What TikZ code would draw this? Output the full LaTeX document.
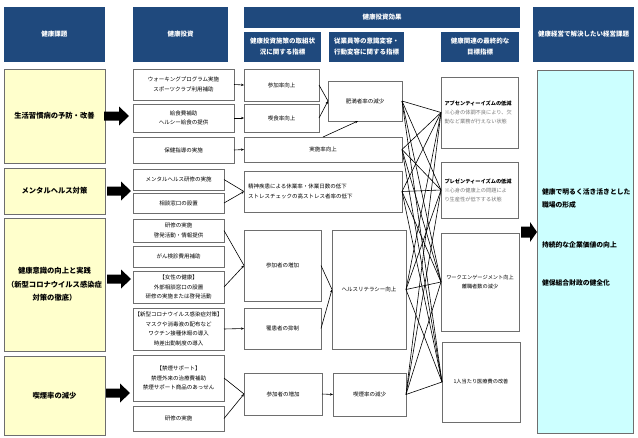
\documentclass[tikz,border=0pt]{standalone}
\usepackage{fontspec}
\newfontfamily\jp{Noto Sans CJK JP}
\usetikzlibrary{arrows.meta}
\definecolor{hdrblue}{RGB}{31,73,125}
\definecolor{yelfill}{RGB}{255,255,204}
\definecolor{cyanfill}{RGB}{204,255,255}
\definecolor{bordergray}{RGB}{110,110,110}
\definecolor{notegray}{RGB}{120,120,120}
\newcommand{\Bx}[6]{\node[#1,anchor=north west,minimum width=#4pt,minimum height=#5pt] (#2) at (#3) {#6};}
\newcommand{\BigArr}[5]{\fill[black] #1 ++(0,-#3) -- ++({#2-#4},0) -- ++(0,{#3-#5}) -- ++(#4,#5) -- ++(-#4,#5) -- ++(0,{#3-#5}) -- ++({-(#2-#4)},0) -- cycle;}
\begin{document}
\begin{tikzpicture}[x=1pt,y=-1pt,
  base/.style={rectangle, inner sep=1pt, outer sep=0pt, align=center, font={\jp\fontsize{5.5}{9.5}\selectfont}},
  hdr/.style={base, fill=hdrblue, text=white, font={\jp\bfseries\fontsize{6.5}{11}\selectfont}},
  yel/.style={base, draw=bordergray, line width=0.8pt, fill=yelfill, font={\jp\bfseries\fontsize{7.3}{13.5}\selectfont}},
  wbox/.style={base, draw=bordergray, line width=0.8pt, fill=white},
  goal/.style={base, draw=bordergray, line width=0.8pt, fill=white, font={\jp\fontsize{5.2}{9}\selectfont}},
  cyanbox/.style={base, draw=bordergray, line width=0.8pt, fill=cyanfill},
  cyantext/.style={base, anchor=west, align=left, font={\jp\bfseries\fontsize{6.8}{13}\selectfont}},
  conn/.style={draw=black, line width=0.6pt},
  arr/.style={conn, -{Stealth[length=3pt,width=2.4pt]}}
]
\useasboundingbox (0,0) rectangle (638,437);
\fill[white] (0,0) rectangle (638,437);
% headers
\Bx{hdr}{h1}{4,7}{101}{55}{健康課題}
\Bx{hdr}{h2}{133,7}{95}{55}{健康投資}
\Bx{hdr}{h3}{244,7}{276}{21}{健康投資効果}
\Bx{hdr}{h3a}{244,32}{77}{30}{健康投資施策の取組状\\況に関する指標}
\Bx{hdr}{h3b}{329,32}{75}{30}{従業員等の意識変容・\\行動変容に関する指標}
\Bx{hdr}{h3c}{441,32}{78}{30}{健康関連の最終的な\\目標指標}
\Bx{hdr}{h4}{533,7}{101}{55}{健康経営で解決したい経営課題}
% health issues
\Bx{yel}{y1}{4,69}{101}{94}{生活習慣病の予防・改善}
\Bx{yel}{y2}{4,168}{101}{46}{メンタルヘルス対策}
\Bx{yel}{y3}{4,218}{101}{133}{健康意識の向上と実践\\（新型コロナウイルス感染症\\対策の徹底）}
\Bx{yel}{y4}{4,356}{101}{79}{喫煙率の減少}
% investments
\Bx{wbox}{b1}{133,69}{101}{31}{ウォーキングプログラム実施\\スポーツクラブ利用補助}
\Bx{wbox}{b2}{133,104}{101}{28}{給食費補助\\ヘルシー給食の提供}
\Bx{wbox}{b3}{133,137}{101}{26}{保健指導の実施}
\Bx{wbox}{b4}{133,169}{91}{21}{メンタルヘルス研修の実施}
\Bx{wbox}{b5}{133,193}{91}{20}{相談窓口の設置}
\Bx{wbox}{b6}{133,219}{91}{23}{研修の実施\\啓発活動・情報提供}
\Bx{wbox}{b7}{133,246}{91}{21}{がん検診費用補助}
\Bx{wbox}{b8}{133,271}{91}{32}{【女性の健康】\\外部相談窓口の設置\\研修の実施または啓発活動}
\Bx{wbox}{b9}{133,308}{91}{42}{【新型コロナウイルス感染症対策】\\マスクや消毒液の配布など\\ワクチン接種休暇の導入\\時差出勤制度の導入}
\Bx{wbox}{b10}{133,355}{91}{46}{【禁煙サポート】\\禁煙外来の治療費補助\\禁煙サポート商品のあっせん}
\Bx{wbox}{b11}{133,406}{91}{25}{研修の実施}
% indicators on measures
\Bx{wbox}{c1}{244,69}{75}{32}{参加率向上}
\Bx{wbox}{c2}{244,104}{75}{28}{喫食率向上}
\Bx{wbox}{c3}{244,137}{158}{25}{実施率向上}
\Bx{wbox,align=left,text width=150pt}{c4}{244,171}{158}{41}{精神疾患による休業率・休業日数の低下\\ストレスチェックの高ストレス者率の低下}
\Bx{wbox}{c5}{244,230}{77}{71}{参加者の増加}
\Bx{wbox}{c6}{244,308}{77}{41}{罹患者の抑制}
\Bx{wbox}{c7}{244,373}{78}{42}{参加者の増加}
% behaviour change
\Bx{wbox}{hm}{328,81}{74}{40}{肥満者率の減少}
\Bx{wbox}{hl}{332,230}{74}{119}{ヘルスリテラシー向上}
\Bx{wbox}{sm}{333,373}{73}{43}{喫煙率の減少}
% final goals
\Bx{goal,align=left,text width=70pt}{d1}{441,77}{77}{71}{{\bfseries アブセンティーイズムの低減}\\{\color{notegray}※心身の体調不良により、欠}\\{\color{notegray}勤など業務が行えない状態}}
\Bx{goal,align=left,text width=70pt}{d2}{441,162}{77}{56}{{\bfseries プレゼンティーイズムの低減}\\{\color{notegray}※心身の健康上の問題によ}\\{\color{notegray}り生産性が低下する状態}}
\Bx{goal}{d3}{441,233}{78}{98}{ワークエンゲージメント向上\\離職者数の減少}
\Bx{goal}{d4}{442,342}{78}{80}{1人当たり医療費の改善}
% management issues
\Bx{cyanbox}{mg}{537,70}{96}{363}{}
\node[cyantext] (t1) at (541,198.5) {健康で明るく活き活きとした\\職場の形成};
\node[cyantext] (t2) at (541,245) {持続的な企業価値の向上};
\node[cyantext] (t3) at (541,283) {健保組合財政の健全化};
% big arrows
\BigArr{(104,116)}{25}{4.5}{10}{9.5}
\BigArr{(107,191)}{24}{4.5}{10}{9.5}
\BigArr{(107,279)}{24}{4.5}{10}{9.5}
\BigArr{(106,393)}{24}{4.5}{10}{9.5}
\BigArr{(521,232)}{16}{5.5}{7}{10}
% connectors investment -> indicators
\draw[arr] (b1.east) -- (c1.west);
\draw[arr] (b2.east) -- (c2.west);
\draw[arr] (b3.east) -- (c3.west);
\draw[conn] (b4.east) -- (c4.west);
\draw[arr] (b5.east) -- (c4.west);
\draw[conn] (b6.east) -- (c5.west);
\draw[arr] (b8.east) -- (c5.west);
\draw[arr] (b9.east) -- (c6.west);
\draw[conn] (b10.east) -- (c7.west);
\draw[arr] (b11.east) -- (c7.west);
% indicators -> behaviour change
\draw[conn] (c1.east) -- (hm.west);
\draw[arr] (c2.east) -- (hm.west);
\draw[arr] (c3.north) -- ([xshift=-7pt]hm.south);
\draw[conn] (c5.east) -- (hl.west);
\draw[arr] (c6.east) -- (hl.west);
\draw[arr] (c7.east) -- (sm.west);
% behaviour -> final goals
\foreach \s in {hm,c3,c4,hl,sm}
  \foreach \t in {d1,d2,d3,d4}
    \draw[conn] (\s.east) -- (\t.west);
\end{tikzpicture}
\end{document}
